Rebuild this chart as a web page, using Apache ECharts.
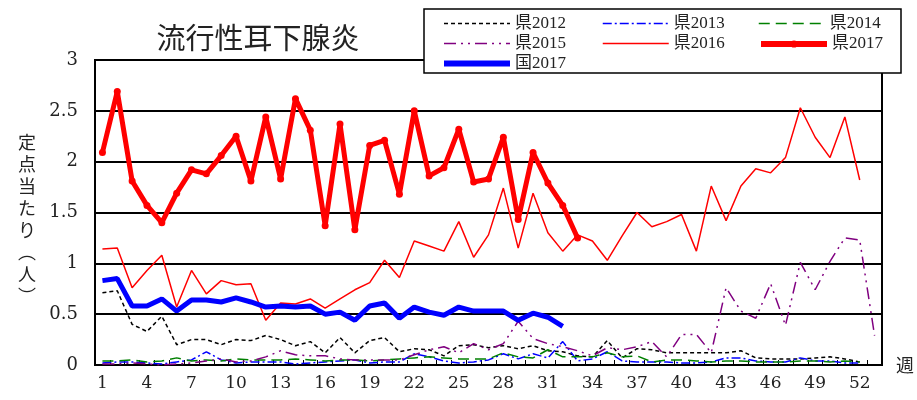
<!DOCTYPE html>
<html><head><meta charset="utf-8">
<script src="https://cdn.jsdelivr.net/npm/echarts@6/dist/echarts.min.js"></script>
<style>html,body{margin:0;padding:0;background:#fff}#c{width:917px;height:400px}</style>
</head><body><div id="c"></div>
<script>
var weeks = [];
for (var i = 1; i <= 53; i++) weeks.push(String(i));
var k2012 = [0.71,0.73,0.40,0.33,0.48,0.20,0.25,0.25,0.20,0.25,0.24,0.29,0.25,0.19,0.23,0.12,0.27,0.12,0.24,0.27,0.13,0.16,0.15,0.09,0.19,0.20,0.17,0.19,0.16,0.19,0.14,0.13,0.09,0.08,0.24,0.07,0.16,0.15,0.12,0.12,0.12,0.12,0.12,0.14,0.07,0.06,0.06,0.06,0.07,0.08,0.06,0.03];
var k2013 = [0.02,0.03,0.03,0.02,0.01,0.03,0.05,0.13,0.05,0.02,0.03,0.03,0.03,0.01,0.02,0.03,0.04,0.05,0.02,0.03,0.03,0.11,0.08,0.04,0.02,0.03,0.05,0.11,0.06,0.11,0.07,0.23,0.04,0.06,0.13,0.04,0.03,0.03,0.03,0.02,0.02,0.03,0.07,0.07,0.04,0.03,0.03,0.07,0.04,0.04,0.02,0.02];
var k2014 = [0.04,0.04,0.05,0.03,0.04,0.07,0.04,0.05,0.04,0.06,0.05,0.05,0.05,0.06,0.05,0.04,0.05,0.05,0.04,0.05,0.06,0.07,0.08,0.07,0.06,0.06,0.06,0.12,0.08,0.07,0.15,0.08,0.08,0.08,0.12,0.08,0.09,0.03,0.05,0.05,0.04,0.03,0.04,0.04,0.03,0.03,0.03,0.04,0.04,0.03,0.04,0.03];
var k2015 = [0.01,0.01,0.02,0.01,0.00,0.01,0.02,0.04,0.06,0.03,0.04,0.08,0.14,0.10,0.09,0.09,0.06,0.05,0.05,0.05,0.05,0.10,0.15,0.18,0.12,0.21,0.15,0.21,0.43,0.26,0.21,0.18,0.14,0.09,0.17,0.15,0.18,0.23,0.08,0.30,0.30,0.12,0.76,0.53,0.46,0.80,0.39,1.01,0.74,1.02,1.25,1.23,0.29];
var k2016 = [1.14,1.15,0.76,0.93,1.08,0.57,0.93,0.70,0.83,0.79,0.80,0.44,0.61,0.60,0.65,0.56,0.65,0.74,0.81,1.03,0.86,1.22,1.17,1.12,1.41,1.06,1.28,1.74,1.15,1.69,1.30,1.12,1.28,1.22,1.03,1.27,1.50,1.36,1.41,1.48,1.12,1.76,1.42,1.76,1.93,1.89,2.04,2.53,2.24,2.04,2.44,1.82];
var k2017 = [2.09,2.69,1.81,1.57,1.40,1.69,1.92,1.88,2.06,2.25,1.81,2.44,1.83,2.62,2.31,1.37,2.37,1.33,2.16,2.21,1.68,2.50,1.86,1.94,2.32,1.80,1.83,2.24,1.43,2.09,1.79,1.57,1.25];
var n2017 = [0.83,0.85,0.58,0.58,0.65,0.53,0.64,0.64,0.62,0.66,0.62,0.57,0.58,0.57,0.58,0.50,0.52,0.44,0.58,0.61,0.46,0.57,0.52,0.49,0.57,0.53,0.53,0.53,0.44,0.51,0.47,0.38];

var SERIF = "'Liberation Serif','Noto Sans CJK JP',serif";
var AXSERIF = "'DejaVu Serif',serif";
function thin(name, data, color, dash) {
  return {name: name, type: 'line', data: data, symbol: 'none', smooth: false,
    lineStyle: {color: color, width: 1.5, type: dash, cap: 'butt'}, itemStyle: {color: color},
    emphasis: {disabled: true}, animation: false};
}
var legendText = {fontFamily: SERIF, fontSize: 17, color: '#222', lineHeight: 14};
function item(name, width, showDot) {
  return {name: name, lineStyle: {width: width}, itemStyle: {opacity: showDot ? 1 : 0}};
}
function legendCol(x, top, h, items) {
  return {orient: 'vertical', left: x, top: top, itemWidth: 66, itemHeight: h, itemGap: 3,
    data: items, textStyle: legendText, selectedMode: false, z: 20, padding: 0};
}
var chart = echarts.init(document.getElementById('c'), null, {renderer: 'canvas'});
chart.setOption({
  animation: false,
  backgroundColor: '#fff',
  grid: {left: 95, right: 33, top: 60, bottom: 35, show: true, borderColor: '#000', borderWidth: 2, backgroundColor: 'transparent'},
  legend: [
    legendCol(441, 15, 14, [item('県2012', 1.5), item('県2015', 1.5), item('国2017', 6)]),
    legendCol(602, 15, 14, [item('県2013', 1.5), item('県2016', 1.5)]),
    legendCol(758, 15, 14, [item('県2014', 1.5)]),
    legendCol(758, 35.5, 9, [item('県2017', 6, true)])
  ],
  graphic: [
    {type: 'rect', shape: {x: 424, y: 9, width: 477, height: 64}, style: {fill: '#fff', stroke: '#000', lineWidth: 1.5}, z: 10},
    {type: 'text', x: 258, y: 38, style: {text: '流行性耳下腺炎', fontFamily: "'Noto Sans CJK JP'", fontSize: 29, fill: '#222', align: 'center', verticalAlign: 'middle'}, z: 10},
    {type: 'text', x: 27, y: 219, style: {text: '定\n点\n当\nた\nり\n︵\n人\n︶', fontFamily: "'Noto Sans CJK JP'", fontSize: 18, lineHeight: 22, fill: '#222', align: 'center', verticalAlign: 'middle'}, z: 10}
  ],
  xAxis: {
    type: 'category', data: weeks, boundaryGap: true,
    name: '週', nameLocation: 'end', nameGap: 14,
    nameTextStyle: {fontFamily: "'Noto Sans CJK JP'", fontSize: 18, color: '#222', verticalAlign: 'middle'},
    axisLine: {lineStyle: {color: '#000', width: 2}},
    axisTick: {show: true, inside: true, length: 5, interval: 0, lineStyle: {color: '#000', width: 1}},
    axisLabel: {interval: 2, fontFamily: AXSERIF, fontSize: 17, color: '#222', margin: 10},
    splitLine: {show: false}
  },
  yAxis: {
    type: 'value', min: 0, max: 3, interval: 0.5,
    axisLine: {show: true, lineStyle: {color: '#000', width: 2}},
    axisTick: {show: false},
    axisLabel: {fontFamily: AXSERIF, fontSize: 18, color: '#222', margin: 17},
    splitLine: {show: true, lineStyle: {color: '#000', width: 2}}
  },
  series: [
    thin('県2012', k2012, '#000', [4, 3]),
    thin('県2013', k2013, '#0000ff', [9, 3, 2, 3]),
    thin('県2014', k2014, '#008000', [11, 6]),
    thin('県2015', k2015, '#800080', [12, 5, 2, 5, 2, 5]),
    thin('県2016', k2016, '#ff0000', 'solid'),
    {name: '県2017', type: 'line', data: k2017, symbol: 'circle', symbolSize: 7, showSymbol: true,
      lineStyle: {color: '#ff0000', width: 5}, itemStyle: {color: '#ff0000'}, emphasis: {disabled: true}, z: 4},
    {name: '国2017', type: 'line', data: n2017, symbol: 'none',
      lineStyle: {color: '#0000ff', width: 5}, itemStyle: {color: '#0000ff'}, emphasis: {disabled: true}, z: 3}
  ]
});
</script></body></html>
